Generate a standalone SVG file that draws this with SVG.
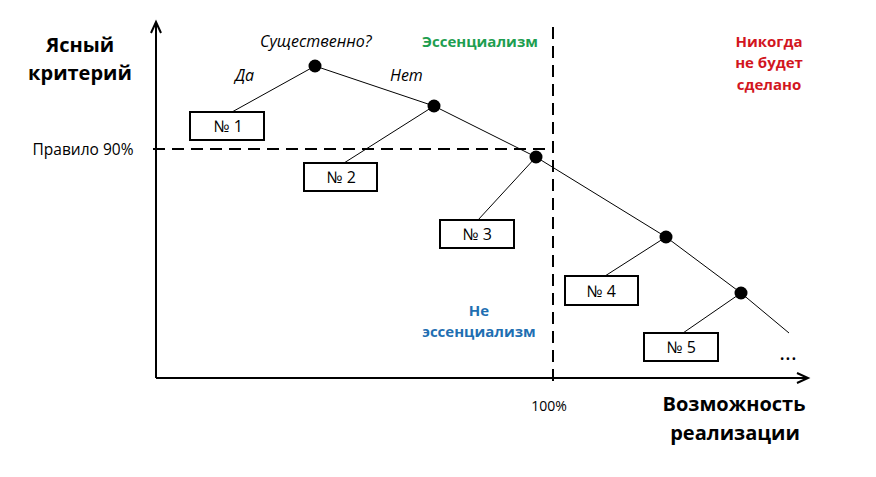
<svg xmlns="http://www.w3.org/2000/svg" width="876" height="477" viewBox="0 0 876 477">
<style>
text{font-family:"Open Sans","Noto Sans","Liberation Sans",sans-serif;fill:#000}
.big{font-size:20px;font-weight:bold;text-anchor:middle}
.it{font-size:16px;font-style:italic}
.lab{font-size:15px;font-weight:bold;text-anchor:middle}
.box rect{fill:#fff;stroke:#000;stroke-width:2}
.box text{font-size:16px;text-anchor:middle}
.thin{stroke:#000;stroke-width:1;fill:none}
.axis{stroke:#000;stroke-width:2;fill:none}
.dash{stroke:#000;stroke-width:2;stroke-dasharray:12,7;fill:none}
.dot{fill:#000}
</style>
<rect width="876" height="477" fill="#fff"/>
<g id="axes">
<path class="axis" d="M156,378 V23 M151,33 L156,22 L161,33"/>
<path class="axis" d="M156,378 H807 M797,373 L808,378 L797,383"/>
<path class="dash" d="M153,149 H553"/>
<path class="dash" d="M553,27 V384"/>
</g>
<g id="connectors">
<polyline class="thin" points="315,66 434,106 536,157 666,237 741,293 789,333"/>
<line class="thin" x1="315" y1="66" x2="232" y2="112"/>
<line class="thin" x1="434" y1="106" x2="344" y2="163"/>
<line class="thin" x1="536" y1="157" x2="478" y2="220"/>
<line class="thin" x1="666" y1="237" x2="605" y2="276"/>
<line class="thin" x1="741" y1="293" x2="683" y2="333"/>
</g>
<g id="dots">
<circle class="dot" cx="315" cy="66" r="6.5"/>
<circle class="dot" cx="434" cy="106" r="6.5"/>
<circle class="dot" cx="536" cy="157" r="6.5"/>
<circle class="dot" cx="666" cy="237" r="6.5"/>
<circle class="dot" cx="741" cy="293" r="6.5"/>
</g>
<g id="n1" class="box"><rect x="190" y="112" width="74" height="28"/><text x="228" y="132">№ 1</text></g>
<g id="n2" class="box"><rect x="304" y="163" width="73" height="28"/><text x="341" y="183">№ 2</text></g>
<g id="n3" class="box"><rect x="440" y="220" width="74" height="28"/><text x="477" y="240">№ 3</text></g>
<g id="n4" class="box"><rect x="565" y="276" width="73" height="29"/><text x="601" y="297">№ 4</text></g>
<g id="n5" class="box"><rect x="644" y="333" width="74" height="28"/><text x="681" y="353">№ 5</text></g>
<g id="labels">
<text class="big" x="80" y="52">Ясный</text>
<text class="big" x="80" y="80">критерий</text>
<text class="it" x="260" y="47">Существенно?</text>
<text class="it" x="235" y="81">Да</text>
<text class="it" x="390" y="81">Нет</text>
<text class="lab" x="480" y="47" style="fill:#1e9e50">Эссенциализм</text>
<text class="lab" x="769" y="47" style="fill:#d2161e">Никогда</text>
<text class="lab" x="769" y="68" style="fill:#d2161e">не будет</text>
<text class="lab" x="769" y="90" style="fill:#d2161e">сделано</text>
<text x="83" y="155" style="font-size:15.5px;text-anchor:middle">Правило 90%</text>
<text class="lab" x="479" y="316" style="fill:#1f6fb2">Не</text>
<text class="lab" x="479" y="337" style="fill:#1f6fb2">эссенциализм</text>
<text x="549" y="411" style="font-size:14px;text-anchor:middle">100%</text>
<text class="big" x="734" y="411">Возможность</text>
<text class="big" x="735" y="440">реализации</text>
<text x="788" y="360" style="font-size:22px;text-anchor:middle">...</text>
</g>
</svg>
